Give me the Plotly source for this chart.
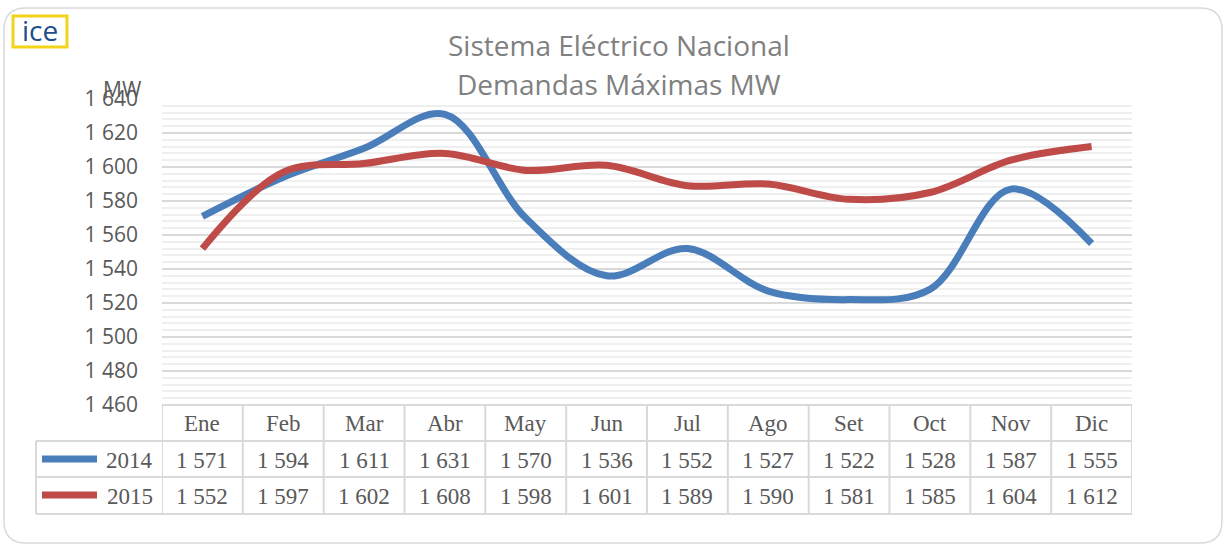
import plotly.graph_objects as go

months = ["Ene", "Feb", "Mar", "Abr", "May", "Jun", "Jul", "Ago", "Set", "Oct", "Nov", "Dic"]
series_names = ["2014", "2015"]
values_2014 = [1571, 1594, 1611, 1631, 1570, 1536, 1552, 1527, 1522, 1528, 1587, 1555]
values_2015 = [1552, 1597, 1602, 1608, 1598, 1601, 1589, 1590, 1581, 1585, 1604, 1612]
y_ticks = [1460, 1480, 1500, 1520, 1540, 1560, 1580, 1600, 1620, 1640]
title_lines = ["Sistema Eléctrico Nacional", "Demandas Máximas MW"]
colors = ["#4A7EBB", "#BE4B48"]

W, H = 1228, 546
ML, MR, MT, MB = 36, 96, 99, 32
PW, PH = W - ML - MR, H - MT - MB


def px(x):
    return (x - ML) / PW


def py(y):
    return (H - MB - y) / PH


def fmt(v):
    return f"{v:,}".replace(",", " ")


fig = go.Figure()
for name, vals, col in zip(series_names, [values_2014, values_2015], colors):
    fig.add_trace(go.Scatter(
        x=months, y=vals, mode="lines", name=name,
        line=dict(color=col, width=7, shape="spline", smoothing=1.0),
        showlegend=False, hoverinfo="x+y+name",
    ))

grid = "#D9D9D9"
text_col = "#595959"
serif = "Liberation Serif"
sans = "Open Sans"

fig.update_layout(
    width=W, height=H,
    margin=dict(l=ML, r=MR, t=MT, b=MB),
    paper_bgcolor="white", plot_bgcolor="white",
    separators=". ",
    xaxis=dict(domain=[px(162), 1], range=[-0.5, 11.5], showticklabels=False,
               showgrid=False, zeroline=False, showline=False, type="category",
               categoryarray=months),
    yaxis=dict(domain=[py(405), 1], range=[1460, 1640], tickvals=y_ticks,
               tickformat=",d", showgrid=True, gridcolor=grid, gridwidth=2,
               zeroline=False, showline=False, ticks="", ticklabelstandoff=23,
               tickfont=dict(family=sans, size=21, color=text_col),
               minor=dict(dtick=4, showgrid=True, gridcolor="#EFEFEF", gridwidth=1.5)),
    font=dict(family=sans, color=text_col),
)

shapes = []
# outer rounded border
x0, y0, x1, y1, r = px(4), py(8), px(1222), py(543), 22
rx, ry = r / PW, r / PH
path = (f"M {x0+rx},{y0} L {x1-rx},{y0} Q {x1},{y0} {x1},{y0-ry} "
        f"L {x1},{y1+ry} Q {x1},{y1} {x1-rx},{y1} L {x0+rx},{y1} Q {x0},{y1} {x0},{y1+ry} "
        f"L {x0},{y0-ry} Q {x0},{y0} {x0+rx},{y0} Z")
shapes.append(dict(type="path", xref="paper", yref="paper", path=path,
                   line=dict(color="#D9D9D9", width=1.5), layer="below"))

# logo
shapes.append(dict(type="rect", xref="paper", yref="paper", x0=px(13), x1=px(67), y0=py(16), y1=py(47),
                   line=dict(color="#F3D21A", width=3), fillcolor="white"))

# table grid
row_y = [405, 441, 477, 514]
tw = 2
shapes.append(dict(type="line", xref="x", yref="paper", x0=-0.5, x1=11.5, y0=py(405), y1=py(405),
                   line=dict(color=grid, width=tw)))
for yy in row_y[1:]:
    shapes.append(dict(type="line", xref="paper", yref="paper", x0=px(36), x1=1, y0=py(yy), y1=py(yy),
                       line=dict(color=grid, width=tw)))
shapes.append(dict(type="line", xref="paper", yref="paper", x0=px(36), x1=px(36), y0=py(441), y1=py(514),
                   line=dict(color=grid, width=tw)))
for i in range(len(months) + 1):
    shapes.append(dict(type="line", xref="x", yref="paper", x0=i - 0.5, x1=i - 0.5, y0=py(405), y1=py(514),
                       line=dict(color=grid, width=tw)))
# legend keys
for k, col in enumerate(colors):
    yy = py(459 + 36 * k)
    shapes.append(dict(type="line", xref="paper", yref="paper", x0=px(42), x1=px(97), y0=yy, y1=yy,
                       line=dict(color=col, width=7)))

annotations = []
for i, line in enumerate(title_lines):
    annotations.append(dict(text=line, xref="paper", yref="paper", x=px(619), y=py(45 + 39 * i),
                            showarrow=False, xanchor="center", yanchor="middle",
                            font=dict(family=sans, size=28, color="#808080")))
annotations.append(dict(text="MW", xref="paper", yref="paper", x=px(122), y=py(89), showarrow=False,
                        xanchor="center", yanchor="middle", font=dict(family=sans, size=21, color=text_col)))
annotations.append(dict(text="ice", xref="paper", yref="paper", x=px(40), y=py(30), showarrow=False,
                        xanchor="center", yanchor="middle", font=dict(family=sans, size=28, color="#1F4E8C")))

for i, m in enumerate(months):
    annotations.append(dict(text=m, xref="x", yref="paper", x=m, y=py(423), showarrow=False,
                            xanchor="center", yanchor="middle", font=dict(family=serif, size=23, color=text_col)))
for k, (name, vals) in enumerate(zip(series_names, [values_2014, values_2015])):
    yy = py(460 + 36 * k)
    annotations.append(dict(text=name, xref="paper", yref="paper", x=px(155), y=yy, showarrow=False,
                            xanchor="right", yanchor="middle", font=dict(family=serif, size=23, color=text_col)))
    for m, v in zip(months, vals):
        annotations.append(dict(text=fmt(v), xref="x", yref="paper", x=m, y=yy, showarrow=False,
                                xanchor="center", yanchor="middle",
                                font=dict(family=serif, size=23, color=text_col)))

fig.update_layout(shapes=shapes, annotations=annotations)
fig.write_html("out.html", config={"displayModeBar": False},
               post_script="document.body.style.margin='0';document.body.style.overflow='hidden';")
